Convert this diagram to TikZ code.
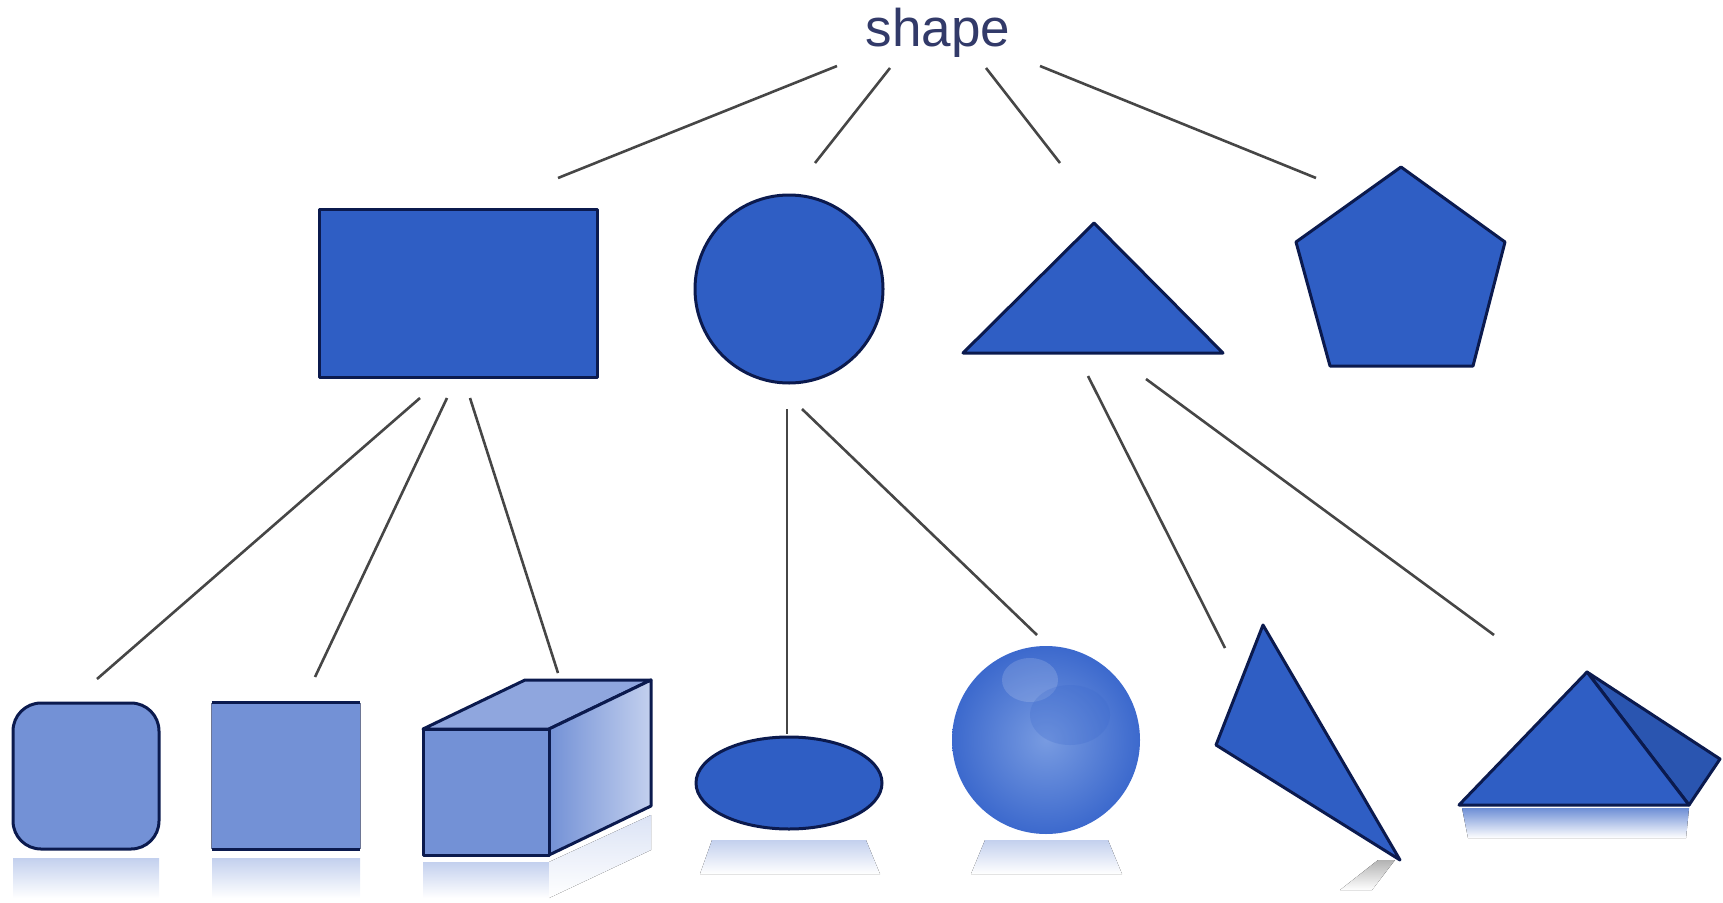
\documentclass[tikz,border=0pt]{standalone}
\usepackage{fontspec}
\setmainfont{Liberation Sans}
\usetikzlibrary{shapes.geometric}
\definecolor{mainblue}{RGB}{47,94,196}
\definecolor{outl}{RGB}{11,26,78}
\definecolor{lightb}{RGB}{115,145,214}
\definecolor{paleb}{RGB}{195,208,238}
\definecolor{topb}{RGB}{143,166,222}
\definecolor{linec}{RGB}{70,70,70}
\definecolor{textc}{RGB}{50,58,105}
\definecolor{sphin}{RGB}{120,155,225}
\definecolor{sphout}{RGB}{60,105,205}
\tikzset{
  conn/.style={draw=linec,line width=2.6},
  solid1/.style={fill=mainblue,draw=outl,line width=3,line join=round},
  solid2/.style={fill=lightb,draw=outl,line width=3,line join=round},
  refl/.style={top color=paleb,bottom color=white,draw=none},
}
\begin{document}
\begin{tikzpicture}[x=1pt,y=-1pt]
\useasboundingbox (0,0) rectangle (1723,902);
% root
\node[anchor=base,font=\fontsize{53}{60}\selectfont,text=textc,inner sep=0] (root) at (938,46) {shape};
% level 1 shapes
\node[solid1,rectangle,minimum width=278,minimum height=168,inner sep=0] (rect) at (458,293) {};
\node[solid1,circle,minimum size=188,inner sep=0] (circ) at (789,289) {};
\path[solid1] (963,353) -- (1094,223) -- (1223,353) -- cycle;
\coordinate (tri) at (1094,300);
\path[solid1] (1401,167) -- (1505,242) -- (1473,366) -- (1330,366) -- (1296,242) -- cycle;
\coordinate (pent) at (1401,270);
% connector end points level 1
\coordinate (r1) at (837,66);
\coordinate (r2) at (890,68);
\coordinate (r3) at (986,68);
\coordinate (r4) at (1040,66);
\coordinate (a1) at (558,178);
\coordinate (a2) at (815,163);
\coordinate (a3) at (1060,163);
\coordinate (a4) at (1316,178);
\draw[conn] (r1) -- (a1);
\draw[conn] (r2) -- (a2);
\draw[conn] (r3) -- (a3);
\draw[conn] (r4) -- (a4);
% level 2 connectors
\coordinate (b1) at (420,398);
\coordinate (b2) at (447,398);
\coordinate (b3) at (470,398);
\coordinate (c1) at (97,679);
\coordinate (c2) at (315,677);
\coordinate (c3) at (558,673);
\draw[conn] (b1) -- (c1);
\draw[conn] (b2) -- (c2);
\draw[conn] (b3) -- (c3);
\coordinate (d1) at (787,409);
\coordinate (d2) at (802,409);
\coordinate (e1) at (787,734);
\coordinate (e2) at (1037,635);
\draw[conn] (d1) -- (e1);
\draw[conn] (d2) -- (e2);
\coordinate (f1) at (1088,376);
\coordinate (f2) at (1146,379);
\coordinate (g1) at (1225,648);
\coordinate (g2) at (1494,635);
\draw[conn] (f1) -- (g1);
\draw[conn] (f2) -- (g2);
% reflections
\fill[refl] (13,858) rectangle (159,898);
\fill[refl] (212,858) rectangle (360,898);
\fill[refl] (423,862) rectangle (549,898);
\fill[top color=paleb!60,bottom color=white] (549,862) -- (651,815) -- (651,850) -- (549,898) -- cycle;
\fill[refl] (712,840) -- (866,840) -- (880,874) -- (700,874) -- cycle;
\fill[refl] (985,840) -- (1108,840) -- (1122,874) -- (971,874) -- cycle;
\fill[top color=black!30,bottom color=white] (1378,860) -- (1395,860) -- (1372,890) -- (1340,890) -- cycle;
\fill[top color=mainblue!70,bottom color=white] (1462,808) -- (1689,808) -- (1686,838) -- (1468,838) -- cycle;
% level 2 shapes
\node[solid2,rectangle,rounded corners=28,minimum width=146,minimum height=146,inner sep=0] (rsq) at (86,776) {};
\node[fill=lightb,rectangle,minimum width=148,minimum height=146,inner sep=0] (sq) at (286,776) {};
\draw[outl,line width=3] (sq.north west) -- (sq.north east) (sq.south west) -- (sq.south east);
\draw[outl!60,line width=1.2] (sq.north west) -- (sq.south west) (sq.north east) -- (sq.south east);
% cube
\path[solid2,fill=topb] (423,729) -- (525,680) -- (651,680) -- (549,729) -- cycle;
\path[solid2,left color=lightb,right color=paleb] (549,729) -- (651,680) -- (651,806) -- (549,855) -- cycle;
\node[solid2,rectangle,minimum width=126,minimum height=126,inner sep=0] (cube) at (486,792) {};
% ellipse
\node[solid1,ellipse,minimum width=186,minimum height=92,inner sep=0] (ell) at (789,783) {};
% sphere
\node[circle,minimum size=188,inner sep=0,inner color=sphin,outer color=sphout] (sph) at (1046,740) {};
\fill[white,opacity=0.15] (1030,680) ellipse (28 and 22);
\fill[sphout,opacity=0.25] (1070,715) ellipse (40 and 30);
% slanted triangle
\path[solid1] (1263,625) -- (1400,860) -- (1216,745) -- cycle;
\coordinate (stri) at (1290,740);
% pyramid
\path[solid1,fill=mainblue!90!black] (1587,672) -- (1720,759) -- (1689,805) -- cycle;
\path[solid1] (1459,805) -- (1587,672) -- (1689,805) -- cycle;
\coordinate (pyr) at (1590,760);
\end{tikzpicture}
\end{document}
